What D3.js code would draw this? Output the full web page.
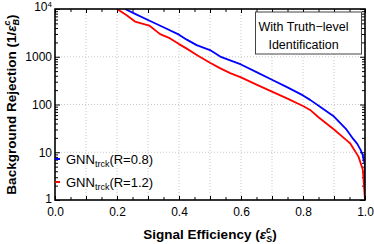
<!DOCTYPE html>
<html>
<head>
<meta charset="utf-8">
<script src="https://cdn.jsdelivr.net/npm/d3@7"></script>
<style>
  body { margin: 0; background: #fff; }
  svg { display: block; font-family: "Liberation Sans", Arial, sans-serif; }
  .tick line { stroke: #000; }
  .domain { display: none; }
</style>
</head>
<body>
<script>
// Signal efficiency vs background rejection
const effR08 = [0.226, 0.26, 0.30, 0.35, 0.40, 0.425, 0.457, 0.50, 0.533, 0.565, 0.60, 0.65, 0.70, 0.75, 0.80, 0.823, 0.855, 0.90, 0.94, 0.962, 0.975, 0.985, 0.992, 1.0, 1.0];
const rejR08 = [10000, 7800, 5900, 4150, 2900, 2280, 1750, 1380, 1010, 840, 690, 476, 330, 228, 155, 125, 90, 56, 30, 19, 15, 11.5, 9, 5.4, 1];

const effR12 = [0.20, 0.23, 0.258, 0.304, 0.339, 0.37, 0.40, 0.425, 0.46, 0.50, 0.532, 0.565, 0.60, 0.65, 0.70, 0.75, 0.80, 0.823, 0.85, 0.90, 0.94, 0.952, 0.962, 0.979, 0.993, 1.0];
const rejR12 = [10000, 7500, 5470, 4500, 2980, 2450, 1840, 1480, 1060, 750, 577, 453, 370, 260, 186, 133, 93, 77, 54, 30, 18, 15.4, 12.1, 8.1, 4.3, 1];

const xLabels = [0, 0.2, 0.4, 0.6, 0.8, 1.0];
const yLabels = [1, 10, 100, 1000, 10000];
const xGrid = [0.1, 0.2, 0.3, 0.4, 0.5, 0.6, 0.7, 0.8, 0.9];
const yGrid = [10, 100, 1000];

const series = [
  {name: "(R=0.8)", eff: effR08, rej: rejR08, color: "#0000ff"},
  {name: "(R=1.2)", eff: effR12, rej: rejR12, color: "#ff0000"}
];

const W = 374, H = 244;
const L = 55, R = 365, T = 9, B = 200;

const svg = d3.select("body").append("svg")
  .attr("width", W).attr("height", H);

const x = d3.scaleLinear().domain([0, 1]).range([L, R]);
const y = d3.scaleLog().domain([1, 1e4]).range([B, T]);

// grid
svg.append("g").selectAll("line").data(xGrid).join("line")
  .attr("x1", d => x(d)).attr("x2", d => x(d))
  .attr("y1", T).attr("y2", B)
  .attr("stroke", "#c8c8c8").attr("stroke-dasharray", "1,2");
svg.append("g").selectAll("line").data(yGrid).join("line")
  .attr("x1", L).attr("x2", R)
  .attr("y1", d => y(d)).attr("y2", d => y(d))
  .attr("stroke", "#c8c8c8").attr("stroke-dasharray", "1,2");

// tick sets
const xMinor = d3.range(0, 21).map(i => i * 0.05);
const xMid = d3.range(0, 11).map(i => i / 10);
const yMinor = [];
[1, 10, 100, 1000].forEach(dec => { for (let k = 2; k <= 9; k++) yMinor.push(dec * k); });

function tickAxis(axisFn, scale, values, size, transform) {
  svg.append("g").attr("transform", transform)
    .call(axisFn(scale).tickValues(values).tickSize(-size).tickFormat(""));
}
tickAxis(d3.axisBottom, x, xMinor, 3, `translate(0,${B})`);
tickAxis(d3.axisBottom, x, xMid, 4, `translate(0,${B})`);
tickAxis(d3.axisTop, x, xMinor, 3, `translate(0,${T})`);
tickAxis(d3.axisTop, x, xMid, 4, `translate(0,${T})`);
tickAxis(d3.axisLeft, y, yMinor, 3, `translate(${L},0)`);
tickAxis(d3.axisLeft, y, yLabels, 5, `translate(${L},0)`);
tickAxis(d3.axisRight, y, yMinor, 3, `translate(${R},0)`);
tickAxis(d3.axisRight, y, yLabels, 5, `translate(${R},0)`);

// tick labels
svg.append("g").attr("transform", `translate(0,${B})`)
  .call(d3.axisBottom(x).tickValues(xLabels).tickSize(0).tickPadding(7).tickFormat(d3.format(".1f")))
  .call(g => g.selectAll("text").attr("font-size", 12).attr("fill", "#000")
    .attr("font-family", "Liberation Sans, Arial, sans-serif"));

const yAx = svg.append("g").attr("transform", `translate(${L},0)`)
  .call(d3.axisLeft(y).tickValues(yLabels).tickSize(0).tickPadding(3).tickFormat(d => d === 10000 ? "" : String(d)));
yAx.selectAll("text").attr("font-size", 12).attr("fill", "#000")
  .attr("font-family", "Liberation Sans, Arial, sans-serif")
  .each(function(d) {
    const t = d3.select(this);
    if (d === 1) t.attr("dy", "0.2em");
    if (d === 10000) {
      t.append("tspan").text("10").attr("dy", "0.15em");
      t.append("tspan").text("4").attr("font-size", 8).attr("dy", "-0.5em");
    }
  });

// curves
svg.append("clipPath").attr("id", "plot")
  .append("rect").attr("x", L).attr("y", T).attr("width", R - L).attr("height", B - T);

const line = d3.line()
  .x(d => x(d[0]))
  .y(d => y(d[1]));

svg.append("g").attr("clip-path", "url(#plot)")
  .selectAll("path").data(series).join("path")
  .attr("d", s => line(d3.zip(s.eff, s.rej)))
  .attr("fill", "none")
  .attr("stroke", s => s.color)
  .attr("stroke-width", 1.8)
  .attr("stroke-linejoin", "round");

// frame
svg.append("rect").attr("x", L).attr("y", T).attr("width", R - L).attr("height", B - T)
  .attr("fill", "none").attr("stroke", "#000").attr("stroke-width", 1.6);

// legend
const leg = svg.append("g").selectAll("g").data(series).join("g")
  .attr("transform", (s, i) => `translate(0,${159 + i * 23})`);
leg.append("line").attr("x1", L).attr("x2", L + 5).attr("y1", 0).attr("y2", 0)
  .attr("stroke", s => s.color).attr("stroke-width", 2);
const lt = leg.append("text").attr("x", 66).attr("y", 5).attr("font-size", 13).attr("fill", "#000");
lt.append("tspan").text("GNN");
lt.append("tspan").text("trck").attr("font-size", 9).attr("dy", 3);
lt.append("tspan").text(s => s.name).attr("dy", -3);

// annotation box
svg.append("rect").attr("x", 255.5).attr("y", 12).attr("width", 106).attr("height", 42)
  .attr("fill", "#fff").attr("stroke", "#444").attr("stroke-width", 1);
svg.append("text").attr("x", 303.5).attr("y", 31).attr("text-anchor", "middle")
  .attr("font-size", 12.5).text("With Truth\u2212level");
svg.append("text").attr("x", 303.5).attr("y", 49).attr("text-anchor", "middle")
  .attr("font-size", 12.5).text("Identification");

// axis titles
const xt = svg.append("text").attr("x", (L + R) / 2).attr("y", 239)
  .attr("text-anchor", "middle").attr("font-size", 13.5).attr("font-weight", "bold");
xt.append("tspan").text("Signal Efficiency (");
xt.append("tspan").text("\u03b5").attr("font-style", "italic");
xt.append("tspan").text("c").attr("font-size", 9).attr("font-style", "italic").attr("dy", -6);
xt.append("tspan").text("S").attr("font-size", 9).attr("font-style", "italic").attr("dx", -5).attr("dy", 9);
xt.append("tspan").text(")").attr("dy", -3);

const yt = svg.append("text").attr("transform", `translate(16,${(T + B) / 2}) rotate(-90)`)
  .attr("text-anchor", "middle").attr("font-size", 13.5).attr("font-weight", "bold");
yt.append("tspan").text("Background Rejection (1/");
yt.append("tspan").text("\u03b5").attr("font-style", "italic");
yt.append("tspan").text("c").attr("font-size", 9).attr("font-style", "italic").attr("dy", -6);
yt.append("tspan").text("B").attr("font-size", 9).attr("font-style", "italic").attr("dx", -5).attr("dy", 9);
yt.append("tspan").text(")").attr("dy", -3);
</script>
</body>
</html>
